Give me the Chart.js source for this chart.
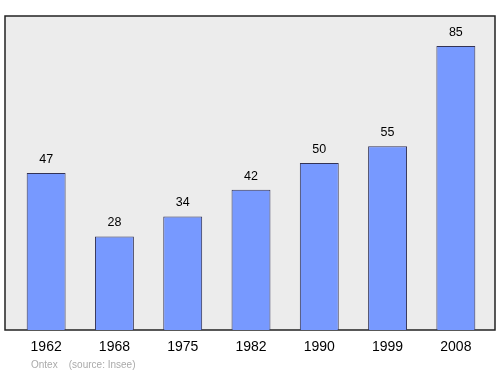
<!DOCTYPE html>
<html>
<head>
<meta charset="utf-8">
<script src="https://cdn.jsdelivr.net/npm/chart.js@4/dist/chart.umd.min.js"></script>
<style>
  html, body { margin: 0; padding: 0; background: #fff; }
  #wrap { width: 500px; height: 374px; }
</style>
</head>
<body>
<div id="wrap"><canvas id="popChart" width="500" height="374"></canvas></div>
<script>
// Census years and population
const years = ['1962', '1968', '1975', '1982', '1990', '1999', '2008'];
const population = [47, 28, 34, 42, 50, 55, 85];
const footerText = 'Ontex    (source: Insee)';

// Grey box with black border behind the bars, value labels and footer
const frameBox = {
  id: 'frameBox',
  beforeDraw(chart) {
    const { ctx, chartArea } = chart;
    const x0 = 5, x1 = 495;
    ctx.save();
    ctx.fillStyle = '#ececec';
    ctx.fillRect(x0, chartArea.top, x1 - x0, chartArea.bottom - chartArea.top);
    ctx.strokeStyle = '#222';
    ctx.lineWidth = 1.5;
    ctx.strokeRect(x0, chartArea.top, x1 - x0, chartArea.bottom - chartArea.top);
    ctx.restore();
  },
  afterDatasetsDraw(chart) {
    const { ctx } = chart;
    const meta = chart.getDatasetMeta(0);
    ctx.save();
    ctx.fillStyle = '#000';
    ctx.font = '12.5px "Liberation Sans", Arial, sans-serif';
    ctx.textAlign = 'center';
    ctx.textBaseline = 'alphabetic';
    meta.data.forEach((bar, i) => {
      ctx.fillText(String(population[i]), bar.x, bar.y - 10);
    });
    // footer
    ctx.fillStyle = '#aaa';
    ctx.font = '10px "Liberation Sans", Arial, sans-serif';
    ctx.textAlign = 'left';
    ctx.fillText(footerText, 31, 368);
    ctx.restore();
  }
};

new Chart(document.getElementById('popChart'), {
  type: 'bar',
  data: {
    labels: years,
    datasets: [{
      data: population,
      backgroundColor: '#7799ff',
      borderColor: '#333355',
      borderWidth: 1,
      borderSkipped: 'bottom',
      categoryPercentage: 1,
      barPercentage: 0.57
    }]
  },
  options: {
    responsive: false,
    animation: false,
    layout: { padding: { left: 12, right: 10, top: 16, bottom: 0 } },
    plugins: { legend: { display: false }, tooltip: { enabled: false } },
    scales: {
      x: {
        grid: { display: false },
        border: { display: false },
        ticks: {
          color: '#000',
          padding: 1,
          font: { family: '"Liberation Sans", Arial, sans-serif', size: 14 }
        },
        afterFit(scale) {
          scale.height = 44;
        }
      },
      y: {
        display: false,
        min: 0,
        max: 94
      }
    }
  },
  plugins: [frameBox]
});
</script>
</body>
</html>
